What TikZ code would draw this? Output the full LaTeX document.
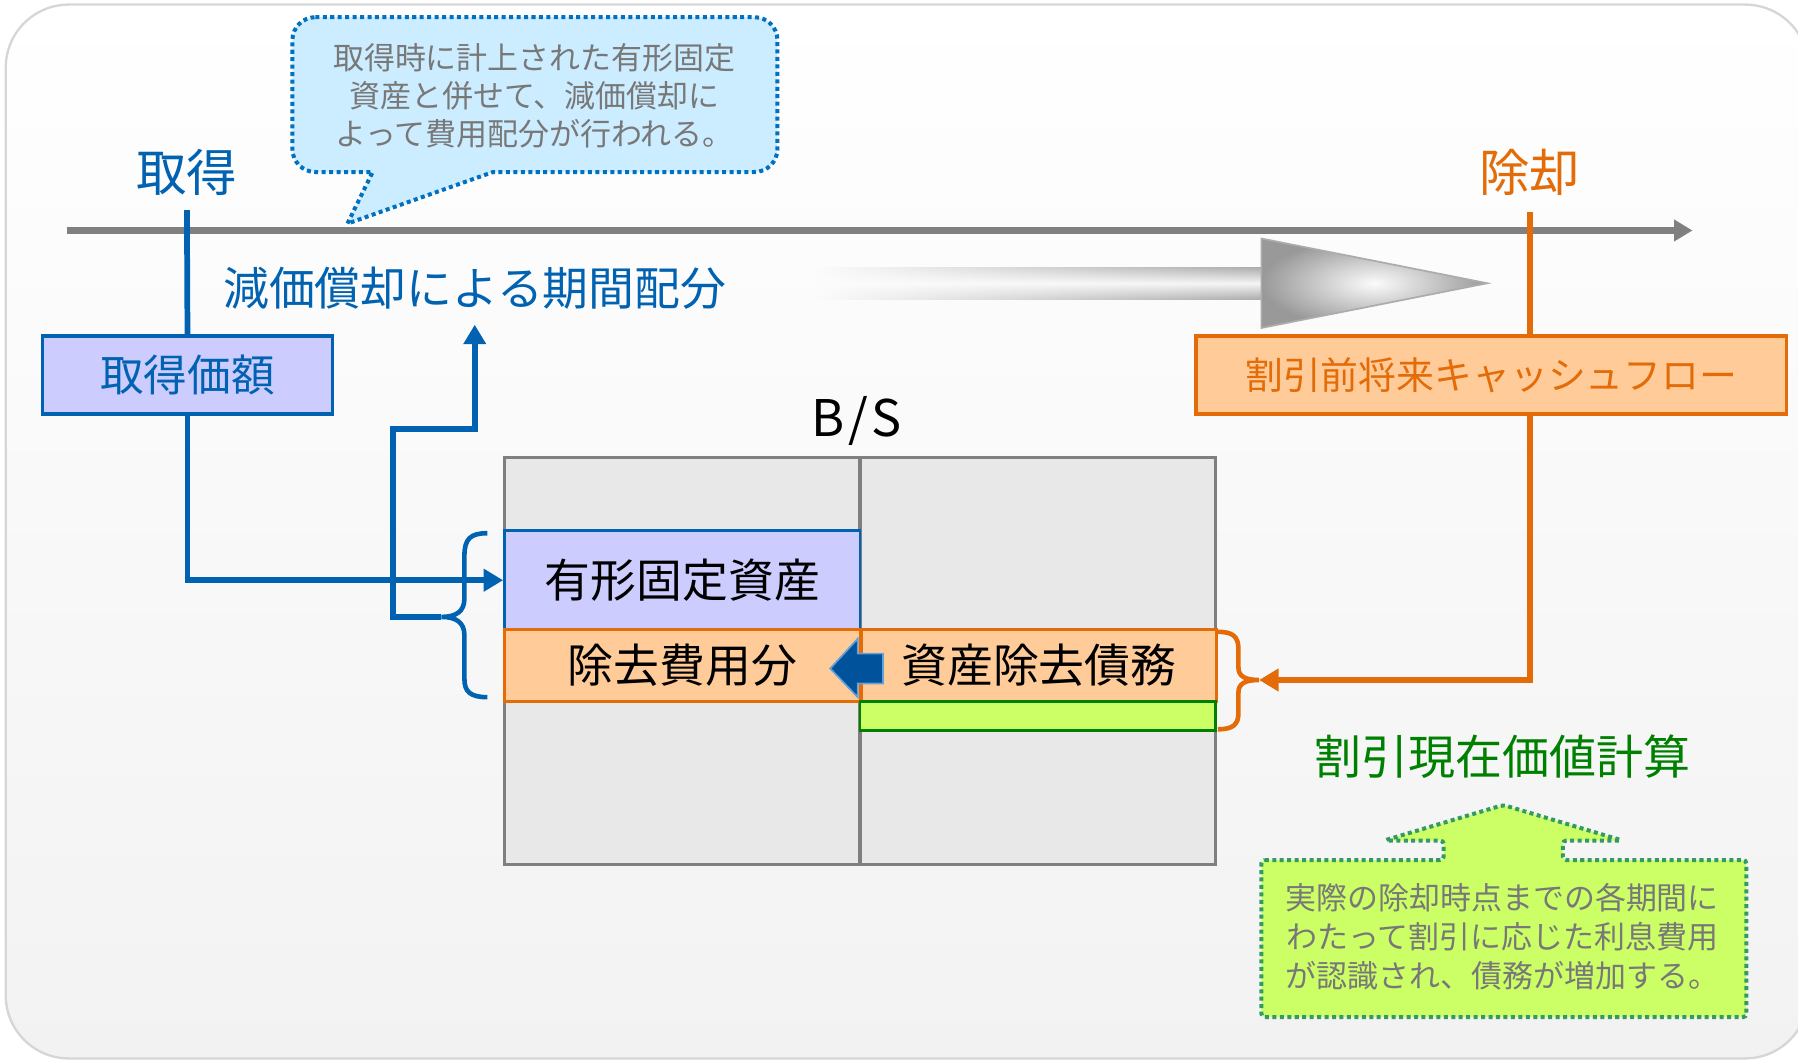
\documentclass[tikz,border=0pt]{standalone}
\usepackage{fontspec}
\setmainfont{Noto Sans CJK JP}
\usetikzlibrary{arrows.meta,fadings,calc}
\definecolor{cblue}{RGB}{0,98,176}
\definecolor{corange}{RGB}{227,108,9}
\definecolor{clav}{RGB}{204,204,255}
\definecolor{cpeach}{RGB}{255,204,153}
\definecolor{clime}{RGB}{204,255,102}
\definecolor{cgreen}{RGB}{0,128,0}
\definecolor{cdots}{RGB}{51,153,102}
\definecolor{cbub}{RGB}{204,236,255}
\definecolor{cbubline}{RGB}{0,112,192}
\definecolor{ctext}{RGB}{120,120,120}
\definecolor{cbs}{RGB}{232,232,232}
\definecolor{cbsline}{RGB}{127,127,127}
\definecolor{cline}{RGB}{128,128,128}
\definecolor{cdark}{RGB}{0,82,155}
\definecolor{clight}{RGB}{100,160,215}
\definecolor{cpanel}{RGB}{242,242,242}
\definecolor{cpanelline}{RGB}{214,214,214}
\newcommand\fsz[2]{\fontsize{#1}{#2}\selectfont}
\tikzfading[name=fadeinright, left color=transparent!100, middle color=transparent!35, right color=transparent!0]
\begin{document}
\begin{tikzpicture}[x=1pt,y=-1pt,
  box/.style={draw, line width=3pt, inner sep=0pt, align=center},
  lbl/.style={inner sep=0pt},
  bl/.style={draw=cblue, line width=5pt},
  ol/.style={draw=corange, line width=5pt},
  myarrow/.style={-{Triangle[length=17pt,width=19pt]}},
  dotline/.style={line width=3.5pt, dash pattern=on 3.5pt off 3pt}]
\useasboundingbox (0,0) rectangle (1568,924);
\fill[white] (0,0) rectangle (1568,924);
\begin{scope}
\clip (0,0) rectangle (1568,924);
\shade[top color=white, bottom color=cpanel, rounded corners=55] (5,4) rectangle (1577,923);
\draw[cpanelline, line width=2pt, rounded corners=55] (5,4) rectangle (1577,923);
\end{scope}

% big gray arrow
\shade[top color=gray!65, bottom color=gray!65, middle color=gray!8, path fading=fadeinright] (712,233) rectangle (1104,261);
\shadedraw[inner color=gray!3, outer color=gray!80, draw=gray!65, line width=1.5pt] (1100,208) -- (1297,247) -- (1100,286) -- cycle;

% timeline
\coordinate (tl0) at (58,201);
\coordinate (tl1) at (1476,201);
\draw[cline, line width=5.5pt, -{Triangle[length=16pt,width=18pt]}] (tl0) -- (tl1);

% labels
\node[lbl, text=cblue, font={\fsz{44}{48}}, minimum height=66] (shutoku) at (163,150) {取得};
\node[lbl, text=corange, font={\fsz{44}{48}}, minimum height=70] (jokyaku) at (1334,150) {除却};
\node[lbl, text=cblue, font={\fsz{40}{44}}, minimum height=64] (genka) at (414,251) {減価償却による期間配分};

% top boxes
\node[box, draw=cblue, fill=clav, text=cblue, font={\fsz{38}{42}}, minimum width=253, minimum height=68] (kakaku) at (163.5,327) {取得価額};
\node[box, draw=corange, fill=cpeach, text=corange, font={\fsz{33}{36}}, minimum width=515, minimum height=68] (cf) at (1300.5,327) {割引前将来キャッシュフロー};

% B/S
\node[lbl, font={\fsz{44}{48}}] (bslabel) at (747,367) {B\hspace{3pt}/\hspace{3pt}S};
\node[draw=cbsline, fill=cbs, line width=3pt, minimum width=620, minimum height=355, inner sep=0pt] (bs) at (750,576.5) {};
\draw[cbsline, line width=3pt] (bs.north) -- (bs.south);
\node[box, line width=2.5pt, draw=cblue, fill=clav, font={\fsz{40}{44}}, minimum width=310, minimum height=86] (yukei) at (595,506) {有形固定資産};
\node[box, line width=2.5pt, draw=corange, fill=cpeach, font={\fsz{40}{44}}, minimum width=310, minimum height=63] (jokyohi) at (595,580.5) {除去費用分};
\node[box, line width=2.5pt, draw=corange, fill=cpeach, font={\fsz{40}{44}}, minimum width=310, minimum height=63] (saimu) at (906,580.5) {資産除去債務};
\node[box, line width=2.5pt, draw=cgreen, fill=clime, minimum width=310, minimum height=25] (gbar) at (905,624.5) {};
\draw[fill=cdark, draw=clight, line width=1.5pt, line join=miter] (770,570) -- (748,570) -- (748,557) -- (724,583) -- (748,608) -- (748,596) -- (770,596) -- cycle;

% braces
\draw[cblue, line width=4pt] (425,465) .. controls (410,465) and (405,470) .. (405,485) -- (405,522) .. controls (405,533) and (398,538) .. (385,538) .. controls (398,538) and (405,543) .. (405,554) -- (405,592) .. controls (405,603) and (410,608) .. (425,608);
\coordinate (bbtip) at (385,538);
\draw[corange, line width=4pt] (1062,551) .. controls (1075,551) and (1080,555) .. (1080,566) -- (1080,582) .. controls (1080,590) and (1086,593) .. (1098,593) .. controls (1086,593) and (1080,596) .. (1080,604) -- (1080,622) .. controls (1080,632) and (1075,636) .. (1062,636);
\coordinate (obtip) at (1098,593);

% connectors
\draw[bl] (shutoku.south) -- (kakaku.north);
\draw[bl, myarrow] (kakaku.south) |- (yukei.west);
\coordinate (bendA) at (343,374);
\draw[bl, myarrow] (bbtip) -| (bendA) -| (genka.south);
\draw[ol] (jokyaku.south) -- (jokyaku.south |- cf.north);
\draw[ol, myarrow] (jokyaku.south |- cf.south) |- (obtip);

% green label
\node[lbl, text=cgreen, font={\fsz{41}{45}}] (genzai) at (1310,660) {割引現在価値計算};

% green callout
\draw[fill=clime, draw=cdots, dotline, rounded corners=3] (1100,750) -- (1259,750) -- (1259,733) -- (1207,733) -- (1311,702) -- (1415,733) -- (1363,733) -- (1363,750) -- (1523,750) -- (1523,887) -- (1100,887) -- cycle;
\node[lbl, text=ctext, font={\fsz{27}{34}}, align=center] (gnote) at (1310,817) {実際の除却時点までの各期間に\\わたって割引に応じた利息費用\\が認識され、債務が増加する。};

% blue bubble
\draw[fill=cbub, draw=cbubline, dotline] (275,15) -- (658,15) .. controls (669,15) and (678,24) .. (678,35) -- (678,130) .. controls (678,141) and (669,150) .. (658,150) -- (430,150) -- (303,195) -- (325,150) -- (275,150) .. controls (264,150) and (255,141) .. (255,130) -- (255,35) .. controls (255,24) and (264,15) .. (275,15) -- cycle;
\node[lbl, text=ctext, font={\fsz{27}{33.5}}, align=center] (bnote) at (466,83.5) {取得時に計上された有形固定\\資産と併せて、減価償却に\\よって費用配分が行われる。};
\end{tikzpicture}
\end{document}
